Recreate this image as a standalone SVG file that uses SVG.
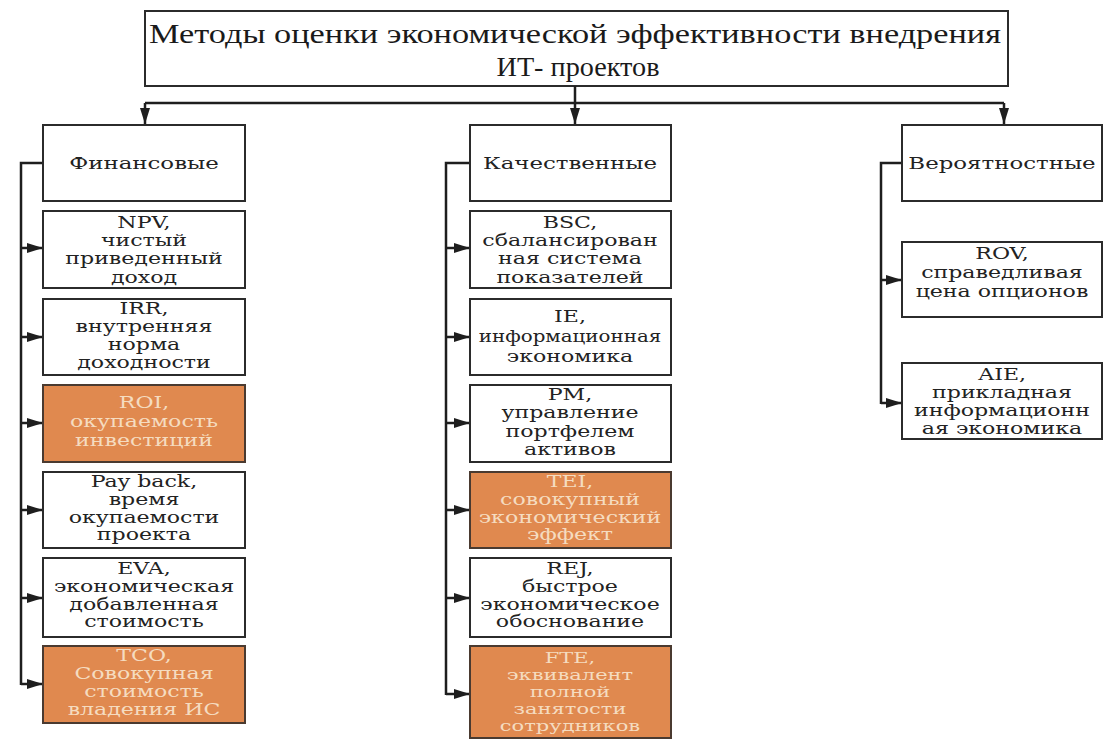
<svg xmlns="http://www.w3.org/2000/svg" width="1103" height="740" viewBox="0 0 1103 740">
  <defs>
    <marker id="arr" viewBox="0 0 16 10" markerUnits="userSpaceOnUse" markerWidth="16" markerHeight="10" refX="16" refY="5" orient="auto">
      <path d="M0,0 L16,5 L0,10 z" fill="#1e1e1e"/>
    </marker>
    <style>
      .box { fill: #ffffff; stroke: #2b2b2b; stroke-width: 2; }
      .hl { fill: #e0894f; stroke: #4a3a30; stroke-width: 2; }
      .t { font-family: "DejaVu Serif", "Liberation Serif", serif; font-size: 16px; fill: #222222; text-anchor: middle;
           transform-box: fill-box; transform-origin: center; transform: scaleX(1.38); }
      .t.n { transform: scaleX(1.24); }
      .t.s { font-size: 14.5px; transform: scaleX(1.45); }
      .h { font-family: "DejaVu Serif", "Liberation Serif", serif; font-size: 16px; fill: #222222; text-anchor: middle;
           transform-box: fill-box; transform-origin: center; transform: scaleX(1.43); }
      .o { fill: #f5dcc0; }
      .ttl { font-family: "Liberation Serif", serif; font-size: 27px; fill: #1a1a1a; text-anchor: middle; }
      .wire { stroke: #1e1e1e; stroke-width: 2.5; fill: none; }
    </style>
  </defs>
  <rect width="1103" height="740" fill="#ffffff"/>

  <!-- root -->
  <g id="root">
    <rect class="box" x="145" y="11" width="863" height="75"/>
    <text class="ttl" x="575" y="43" textLength="852" lengthAdjust="spacingAndGlyphs">Методы оценки экономической эффективности внедрения</text>
    <text class="ttl" x="578" y="76" textLength="163" lengthAdjust="spacingAndGlyphs">ИТ- проектов</text>
  </g>

  <!-- connectors -->
  <g id="connectors">
    <path class="wire" d="M575,86 V103 M145,103 H1004"/>
    <path class="wire" d="M145,103 V124" marker-end="url(#arr)"/>
    <path class="wire" d="M575,103 V124" marker-end="url(#arr)"/>
    <path class="wire" d="M1004,103 V124" marker-end="url(#arr)"/>

    <path class="wire" d="M43,163 H21 V685"/>
    <path class="wire" d="M21,248 H43" marker-end="url(#arr)"/>
    <path class="wire" d="M21,337 H43" marker-end="url(#arr)"/>
    <path class="wire" d="M21,423 H43" marker-end="url(#arr)"/>
    <path class="wire" d="M21,510 H43" marker-end="url(#arr)"/>
    <path class="wire" d="M21,598 H43" marker-end="url(#arr)"/>
    <path class="wire" d="M21,684 H43" marker-end="url(#arr)"/>

    <path class="wire" d="M470,163 H446 V695"/>
    <path class="wire" d="M446,248 H470" marker-end="url(#arr)"/>
    <path class="wire" d="M446,337 H470" marker-end="url(#arr)"/>
    <path class="wire" d="M446,423 H470" marker-end="url(#arr)"/>
    <path class="wire" d="M446,510 H470" marker-end="url(#arr)"/>
    <path class="wire" d="M446,598 H470" marker-end="url(#arr)"/>
    <path class="wire" d="M446,694 H470" marker-end="url(#arr)"/>

    <path class="wire" d="M902,163 H881 V404"/>
    <path class="wire" d="M881,280 H902" marker-end="url(#arr)"/>
    <path class="wire" d="M881,403 H902" marker-end="url(#arr)"/>
  </g>

  <!-- financial column -->
  <g id="fin">
    <rect class="box" x="43" y="125" width="202" height="76"/>
    <text class="h" x="144" y="169">Финансовые</text>
  </g>
  <g id="npv">
    <rect class="box" x="43" y="211" width="202" height="77"/>
    <text class="t" x="144" y="228">NPV,</text>
    <text class="t" x="144" y="246">чистый</text>
    <text class="t" x="144" y="264">приведенный</text>
    <text class="t" x="144" y="283">доход</text>
  </g>
  <g id="irr">
    <rect class="box" x="43" y="299" width="202" height="76"/>
    <text class="t" x="144" y="314">IRR,</text>
    <text class="t" x="144" y="332">внутренняя</text>
    <text class="t" x="144" y="350">норма</text>
    <text class="t" x="144" y="368">доходности</text>
  </g>
  <g id="roi">
    <rect class="hl" x="43" y="385" width="202" height="77"/>
    <text class="t o" x="144" y="408">ROI,</text>
    <text class="t o" x="144" y="427">окупаемость</text>
    <text class="t o" x="144" y="446">инвестиций</text>
  </g>
  <g id="payback">
    <rect class="box" x="43" y="472" width="202" height="76"/>
    <text class="t" x="144" y="487">Pay back,</text>
    <text class="t" x="144" y="505">время</text>
    <text class="t" x="144" y="523">окупаемости</text>
    <text class="t" x="144" y="540">проекта</text>
  </g>
  <g id="eva">
    <rect class="box" x="43" y="558" width="202" height="79"/>
    <text class="t" x="144" y="574">EVA,</text>
    <text class="t" x="144" y="592">экономическая</text>
    <text class="t" x="144" y="610">добавленная</text>
    <text class="t" x="144" y="627">стоимость</text>
  </g>
  <g id="tco">
    <rect class="hl" x="43" y="646" width="202" height="77"/>
    <text class="t o" x="144" y="661">TCO,</text>
    <text class="t o" x="144" y="679">Совокупная</text>
    <text class="t o" x="144" y="697">стоимость</text>
    <text class="t o" x="144" y="715">владения ИС</text>
  </g>

  <!-- qualitative column -->
  <g id="qual">
    <rect class="box" x="470" y="125" width="201" height="76"/>
    <text class="h" x="570" y="169">Качественные</text>
  </g>
  <g id="bsc">
    <rect class="box" x="470" y="211" width="201" height="77"/>
    <text class="t" x="570" y="228">BSC,</text>
    <text class="t" x="570" y="246">сбалансирован</text>
    <text class="t" x="570" y="264">ная система</text>
    <text class="t" x="570" y="283">показателей</text>
  </g>
  <g id="ie">
    <rect class="box" x="470" y="299" width="201" height="76"/>
    <text class="t" x="570" y="322">IE,</text>
    <text class="t n" x="570" y="342">информационная</text>
    <text class="t" x="570" y="362">экономика</text>
  </g>
  <g id="pm">
    <rect class="box" x="470" y="385" width="201" height="77"/>
    <text class="t" x="570" y="400">PM,</text>
    <text class="t" x="570" y="418">управление</text>
    <text class="t" x="570" y="437">портфелем</text>
    <text class="t" x="570" y="455">активов</text>
  </g>
  <g id="tei">
    <rect class="hl" x="470" y="472" width="201" height="76"/>
    <text class="t o" x="570" y="487">TEI,</text>
    <text class="t o" x="570" y="505">совокупный</text>
    <text class="t o" x="570" y="523">экономический</text>
    <text class="t o" x="570" y="540">эффект</text>
  </g>
  <g id="rej">
    <rect class="box" x="470" y="558" width="201" height="79"/>
    <text class="t" x="570" y="574">REJ,</text>
    <text class="t" x="570" y="592">быстрое</text>
    <text class="t" x="570" y="610">экономическое</text>
    <text class="t" x="570" y="627">обоснование</text>
  </g>
  <g id="fte">
    <rect class="hl" x="470" y="646" width="201" height="92"/>
    <text class="t s o" x="570" y="663">FTE,</text>
    <text class="t s o" x="570" y="680">эквивалент</text>
    <text class="t s o" x="570" y="697">полной</text>
    <text class="t s o" x="570" y="714">занятости</text>
    <text class="t s o" x="570" y="731">сотрудников</text>
  </g>

  <!-- probabilistic column -->
  <g id="prob">
    <rect class="box" x="902" y="125" width="200" height="76"/>
    <text class="h" x="1002" y="169">Вероятностные</text>
  </g>
  <g id="rov">
    <rect class="box" x="902" y="242" width="200" height="75"/>
    <text class="t" x="1002" y="259">ROV,</text>
    <text class="t" x="1002" y="278">справедливая</text>
    <text class="t" x="1002" y="297">цена опционов</text>
  </g>
  <g id="aie">
    <rect class="box" x="902" y="363" width="200" height="76"/>
    <text class="t" x="1002" y="380">AIE,</text>
    <text class="t" x="1002" y="398">прикладная</text>
    <text class="t" x="1002" y="416">информационн</text>
    <text class="t" x="1002" y="434">ая экономика</text>
  </g>
</svg>
